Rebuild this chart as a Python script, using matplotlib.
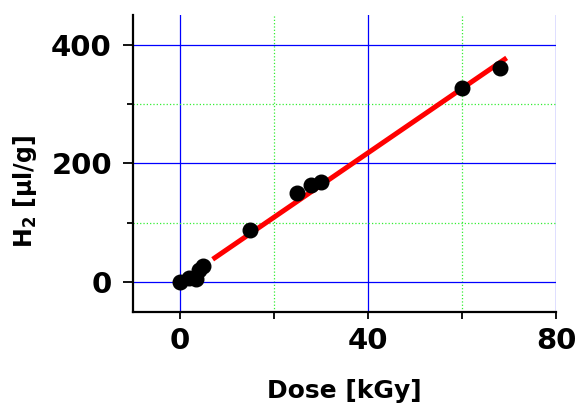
import matplotlib.pyplot as plt
import numpy as np

# measured points (Dose kGy, H2 ul/g)
dose = [0, 2, 3.5, 4, 5, 15, 25, 28, 30, 60, 68]
h2 = [0, 6, 5, 20, 27, 87, 150, 164, 169, 327, 361]

# linear fit line
fit_slope = 5.43
fit_intercept = 0.3
fit_range = [7, 69.5]

plt.rcParams['font.family'] = ['DejaVu Sans']

fig = plt.figure(figsize=(5.75, 4.03), dpi=100)
ax = fig.add_axes([0.2308, 0.2266, 0.967 - 0.2308, 0.9628 - 0.2266])

ax.set_xlim(-10, 80)
ax.set_ylim(-50, 450)
ax.set_xticks([0, 40, 80])
ax.set_xticks([20, 60], minor=True)
ax.set_yticks([0, 200, 400])
ax.set_yticks([100, 300], minor=True)

ax.grid(which='major', color='#0000ff', lw=0.9)
ax.grid(which='minor', color='#33ee33', lw=0.9, ls=':')
ax.set_axisbelow(True)

xf = np.array(fit_range)
ax.plot(xf, fit_slope * xf + fit_intercept, color='#ff0000', lw=3.6, solid_capstyle='butt', zorder=3)
ax.plot(dose, h2, 'o', color='black', ms=10.5, zorder=4)

for s in ['top', 'right']:
    ax.spines[s].set_visible(False)
for s in ['left', 'bottom']:
    ax.spines[s].set_linewidth(1.6)

ax.tick_params(axis='y', which='major', length=7, width=1.3, pad=8, labelsize=21)
ax.tick_params(axis='y', which='minor', length=4, width=1.3)
ax.tick_params(axis='x', which='both', length=5, width=1.3, pad=6, labelsize=21)
for lab in ax.get_xticklabels() + ax.get_yticklabels():
    lab.set_fontweight('bold')

ax.set_xlabel('Dose [kGy]', fontsize=18, fontweight='bold', labelpad=17)
ax.set_ylabel('H$_\\mathbf{2}$ [µl/g]', fontsize=17, fontweight='bold')
ax.yaxis.set_label_coords(-0.222, 0.405)

fig.savefig('out.png', dpi=100)
